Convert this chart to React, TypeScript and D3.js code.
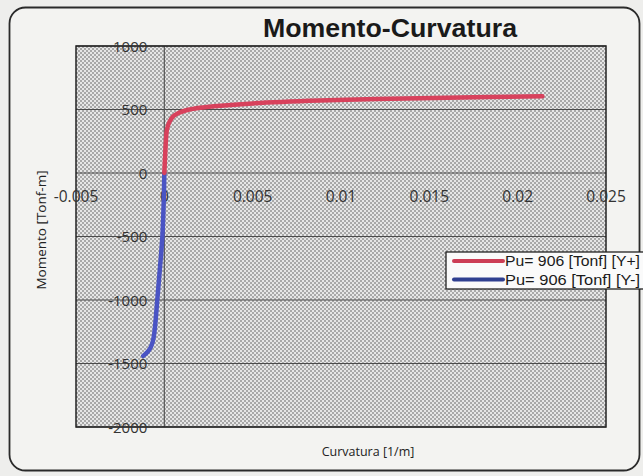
import React from "react";
import * as d3 from "d3";

const title = "Momento-Curvatura";
const xTitle = "Curvatura [1/m]";
const yTitle = "Momento [Tonf-m]";
const xTicks = [-0.005, 0, 0.005, 0.01, 0.015, 0.02, 0.025];
const yTicks = [1000, 500, 0, -500, -1000, -1500, -2000];
const seriesNames = ["Pu= 906 [Tonf] [Y+]", "Pu= 906 [Tonf] [Y-]"];

const posCurv = [0, 0.00005, 0.0001, 0.00015, 0.0003, 0.0005, 0.0008, 0.0012, 0.002, 0.003, 0.005, 0.0088, 0.012, 0.016, 0.0214];
const posMom = [0, 150, 280, 345, 405, 445, 472, 492, 513, 528, 548, 570, 582, 593, 605];
const negCurv = [0, -0.00003, -0.00011, -0.00025, -0.0004, -0.00052, -0.0006, -0.00068, -0.0008, -0.00093, -0.00119];
const negMom = [0, -200, -500, -750, -1000, -1200, -1290, -1340, -1380, -1405, -1440];

const W = 643, H = 476;
const plot = { left: 76, right: 606, top: 46, bottom: 427 };

export default function App() {
  const x = d3.scaleLinear().domain([-0.005, 0.025]).range([plot.left, plot.right]);
  const y = d3.scaleLinear().domain([-2000, 1000]).range([plot.bottom, plot.top]);
  const line = d3.line<[number, number]>().x(d => x(d[0])).y(d => y(d[1])).curve(d3.curveCatmullRom.alpha(0.5));
  const pos = posCurv.map((c, i) => [c, posMom[i]] as [number, number]);
  const neg = negCurv.map((c, i) => [c, negMom[i]] as [number, number]);
  const fmt = (v: number) => (v === 0 ? "0" : String(v));
  const colors = ["#d8415c", "#4a54c4"];
  const legendColors = ["#cc3d55", "#2f3f90"];
  return (
    <svg width={W} height={H} style={{ position: "absolute", left: 0, top: 0 }}>
      <defs>
        <pattern id="dots" width={4} height={4} patternUnits="userSpaceOnUse">
          <rect width={4} height={4} fill="#e6e6e6" />
          <rect x={0} y={0} width={2} height={2} fill="#a8a8a8" />
          <rect x={2} y={2} width={2} height={2} fill="#a8a8a8" />
        </pattern>
      </defs>
      <rect width={W} height={H} fill="#eeeeec" />
      <rect x={9.5} y={7.5} width={630} height={463} rx={16} fill="#f3f3f1" stroke="#2a2a2a" strokeWidth={1.8} />
      <text x={390} y={37} textAnchor="middle" textLength={254} lengthAdjust="spacingAndGlyphs" fontFamily="Liberation Sans, Arial, sans-serif" fontWeight="bold" fontSize={25} fill="#1a1a1a">{title}</text>
      <rect x={plot.left} y={plot.top} width={plot.right - plot.left} height={plot.bottom - plot.top} fill="url(#dots)" />
      {yTicks.map(t => (
        <line key={"g" + t} x1={plot.left} x2={plot.right} y1={y(t)} y2={y(t)} stroke="#4a4a4a" strokeWidth={1.2} />
      ))}
      <line x1={x(0)} x2={x(0)} y1={plot.top} y2={plot.bottom} stroke="#555" strokeWidth={1.2} />
      <rect x={plot.left} y={plot.top} width={plot.right - plot.left} height={plot.bottom - plot.top} fill="none" stroke="#222" strokeWidth={1.5} />
      {yTicks.map(t => (
        <text key={"y" + t} x={x(0) - 17} y={y(t) + 5.5} textAnchor="end" fontFamily="Open Sans, sans-serif" fontSize={15} fill="#333">{fmt(t)}</text>
      ))}
      {xTicks.map(t => (
        <text key={"x" + t} x={x(t)} y={y(0) + 28.5} textAnchor="middle" fontFamily="Open Sans, sans-serif" fontSize={15.5} fill="#333">{fmt(t)}</text>
      ))}
      <path d={line(neg) || ""} fill="none" stroke={colors[1]} strokeWidth={4.5} strokeLinecap="round" />
      <path d={line(pos) || ""} fill="none" stroke={colors[0]} strokeWidth={4.5} strokeLinecap="round" />
      <text transform={`translate(46,${230}) rotate(-90)`} textAnchor="middle" fontFamily="Open Sans, sans-serif" fontSize={13.5} fill="#222">{yTitle}</text>
      <text x={368} y={456} textAnchor="middle" fontFamily="Open Sans, sans-serif" fontSize={12.5} fill="#222">{xTitle}</text>
      <rect x={446} y={252} width={200} height={37} fill="#fafafa" stroke="#222" strokeWidth={1.3} />
      {seriesNames.map((n, i) => (
        <g key={n}>
          <line x1={454} x2={503} y1={261 + i * 18.5} y2={261 + i * 18.5} stroke={legendColors[i]} strokeWidth={4} strokeLinecap="round" />
          <text x={505} y={266 + i * 18.5} textLength={135} lengthAdjust="spacingAndGlyphs" fontFamily="Liberation Sans, Arial, sans-serif" fontSize={14} fill="#1a1a1a">{n}</text>
        </g>
      ))}
    </svg>
  );
}
